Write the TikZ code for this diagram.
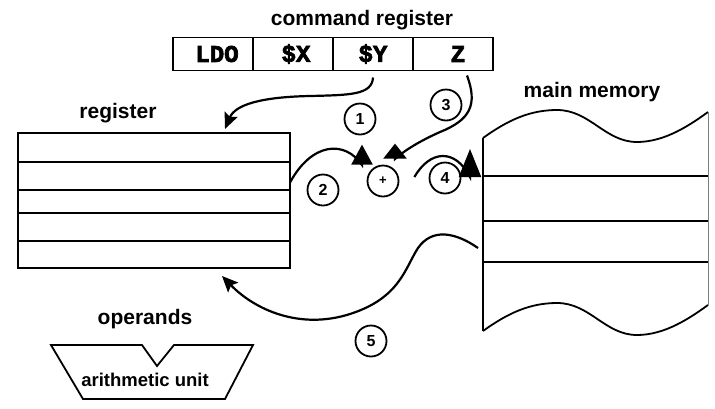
\documentclass[tikz,border=0pt]{standalone}
\usepackage{fontspec}
\setmainfont{Liberation Sans}
\setmonofont{Liberation Mono}[BoldFeatures={FakeBold=3}]
\usetikzlibrary{positioning,calc,arrows.meta}
\tikzset{
  cell/.style={draw, minimum width=80pt, minimum height=33pt,
    inner sep=0pt, outer sep=0pt, font=\ttfamily\bfseries\fontsize{24}{26}\selectfont},
  title/.style={anchor=base, font=\bfseries\fontsize{21}{24}\selectfont},
  num/.style={draw, circle, minimum size=31pt, inner sep=0pt,
    font=\bfseries\fontsize{16}{18}\selectfont},
  flow/.style={line width=2.2pt},
  smalltip/.style={-{Stealth[length=16pt,width=14pt,inset=3pt]}},
}
\begin{document}
\begin{tikzpicture}[x=1pt,y=-1pt,line width=1.8pt]
\useasboundingbox (0,0) rectangle (715,408);
% Befehlsregister
\node[title] at (362,25) {command register};
\node[cell] (ldo) at (213,54) {\hspace{8pt}LDO};
\node[cell, right=0pt of ldo] (rx) {\hspace{6pt}\$X};
\node[cell, right=0pt of rx] (ry) {\$Y};
\node[cell, right=0pt of ry] (rz) {\hspace{10pt}Z};
% Register
\node[title] at (118,118) {register};
\node[draw, minimum width=272pt, minimum height=135pt, inner sep=0pt, outer sep=0pt] (reg) at (154,200.5) {};
\foreach \y in {162,190,213,241}
  \draw (reg.west |- 0,\y) -- (reg.east |- 0,\y);
% Hauptspeicher
\node[title] at (592,97) {main memory};
\coordinate (mem1) at (483,176);
\draw (483,138) .. controls (508,120) and (530,110) .. (557,110)
  .. controls (590,110) and (605,142) .. (637,142)
  .. controls (665,142) and (690,125) .. (708,112);
\draw (483,331) .. controls (508,313) and (530,303) .. (557,303)
  .. controls (590,303) and (605,335) .. (637,335)
  .. controls (665,335) and (690,318) .. (708,305);
\draw (483,138) -- (483,331);
\draw[gray, line width=1pt] (708,112) -- (708,305);
\foreach \y in {176,221,262}
  \draw (483,\y) -- (708,\y);
% Rechenwerk
\node[title] at (145,324) {operands};
\draw (51,345) -- (142,345) -- (157,366) -- (174,345) -- (253,345) -- (225,399) -- (83,399) -- cycle;
\node[anchor=base, font=\bfseries\fontsize{18.5}{22}\selectfont] at (145,386) {arithmetic unit};
% Addierer und Schritte
\node[num, font=\bfseries\fontsize{13}{14}\selectfont] (plus) at (383,181) {+};
\node[num] (n1) at (360,119) {1};
\node[num] (n2) at (323,190) {2};
\node[num] (n3) at (446,105) {3};
\node[num] (n4) at (445,178) {4};
\node[num] (n5) at (371,341) {5};
% Pfeile
\draw[flow, smalltip] ($(ry.south)+(0,7)$) .. controls (372,95) and (350,95) .. (310,96)
  .. controls (260,97) and (235,105) .. ($(reg.north)+(71,-4)$);
\draw[flow, -{Triangle[length=20pt,width=21pt]}] ($(reg.east)+(0,-18)$)
  .. controls (312,142) and (345,140) .. (362,165) -- ($(plus.north)+(-21,-20)$);
\draw[flow, -{Triangle[length=15pt,width=23pt]}] ($(rz.south)+(14,5)$)
  .. controls (478,105) and (470,120) .. (440,132)
  .. controls (420,141) and (405,150) .. (395,159) -- ($(plus.north)+(12,-21)$);
\draw[flow, -{Triangle[length=28pt,width=22pt]}] ($(plus.east)+(15,-4)$)
  .. controls (430,150) and (455,148) .. (470,177) -- ($(mem1)+(-13,-27)$);
\draw[flow, smalltip] ($(mem1)+(-5,72)$) .. controls (455,232) and (432,228) .. (418,248)
  .. controls (405,268) and (400,298) .. (350,314)
  .. controls (300,330) and (255,310) .. ($(reg.south)+(68,8)$);
\end{tikzpicture}
\end{document}
